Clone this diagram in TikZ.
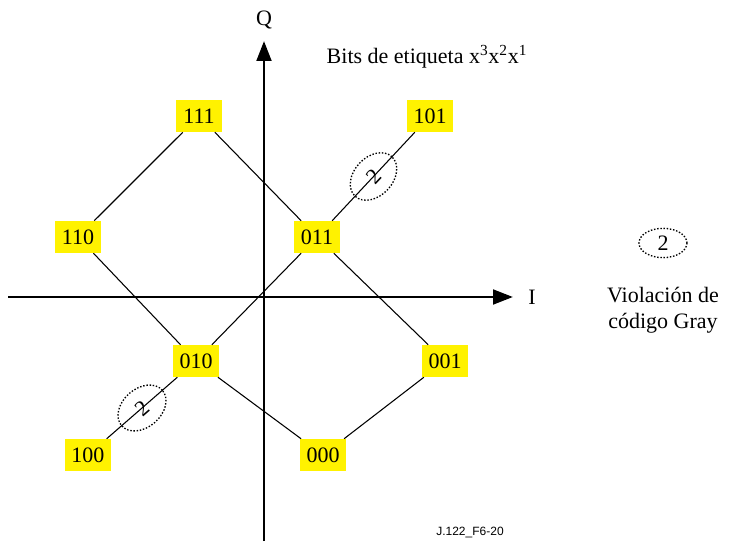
\documentclass[tikz,border=0pt]{standalone}
\usepackage{fontspec}
\setmainfont{Liberation Serif}
\newfontfamily\footfont{Liberation Sans}
\usetikzlibrary{arrows.meta,shapes.geometric}
\begin{document}
\begin{tikzpicture}[x=0.75pt,y=-0.75pt,
  lbl/.style={fill=yellow, minimum width=34.5pt, minimum height=24pt, inner sep=0pt, font=\fontsize{16.5}{18}\selectfont},
  txt/.style={font=\fontsize{16.5}{19.5}\selectfont},
  edge/.style={line width=0.8pt},
  axis/.style={line width=2.2pt, -{Triangle[length=15pt,width=11pt]}},
  viol/.style={draw, ellipse, inner sep=0pt, line width=1pt, dash pattern=on 1.1pt off 1.3pt, minimum width=40.5pt, minimum height=29pt, font=\fontsize{16.5}{18}\selectfont},
  violleg/.style={viol, minimum width=36pt, minimum height=22pt}]
\useasboundingbox (0,0) rectangle (733,549);
% axes
\coordinate (ibeg) at (8,297);
\coordinate (iend) at (513,297);
\coordinate (qbeg) at (264,541);
\coordinate (qend) at (264,41);
\draw[axis] (ibeg) -- (iend);
\draw[axis] (qbeg) -- (qend);
\node[txt] (qlab) at (264,20) {Q};
\node[txt] (ilab) at (532,297) {I};
% labels
\node[lbl] (n111) at (199,116) {111};
\node[lbl] (n101) at (430,116) {101};
\node[lbl] (n110) at (78,237) {110};
\node[lbl] (n011) at (317,237) {011};
\node[lbl] (n010) at (196,361) {010};
\node[lbl] (n001) at (445,361) {001};
\node[lbl] (n100) at (88,455) {100};
\node[lbl] (n000) at (323,455) {000};
% edges
\draw[edge] (n111) -- (n110);
\draw[edge] (n111) -- (n011);
\draw[edge] (n011) -- (n001);
\draw[edge] (n110) -- (n010);
\draw[edge] (n010) -- (n000);
\draw[edge] (n001) -- (n000);
\draw[edge] (n100) -- node[viol,sloped] (v1) {2} (n010);
\draw[edge] (n010) -- (n011);
\draw[edge] (n011) -- node[viol,sloped] (v2) {2} (n101);
% texts
\node[txt, anchor=west] (bits) at (322,57) {Bits de etiqueta x\textsuperscript{3}x\textsuperscript{2}x\textsuperscript{1}};
\node[violleg] (leg) at (663,243) {2};
\node[txt, align=center] (legtxt) at (663,310) {Violación de\\código Gray};
\node[font=\footfont\fontsize{9}{10}\selectfont] (foot) at (470,533) {J.122\_F6-20};
\end{tikzpicture}
\end{document}
